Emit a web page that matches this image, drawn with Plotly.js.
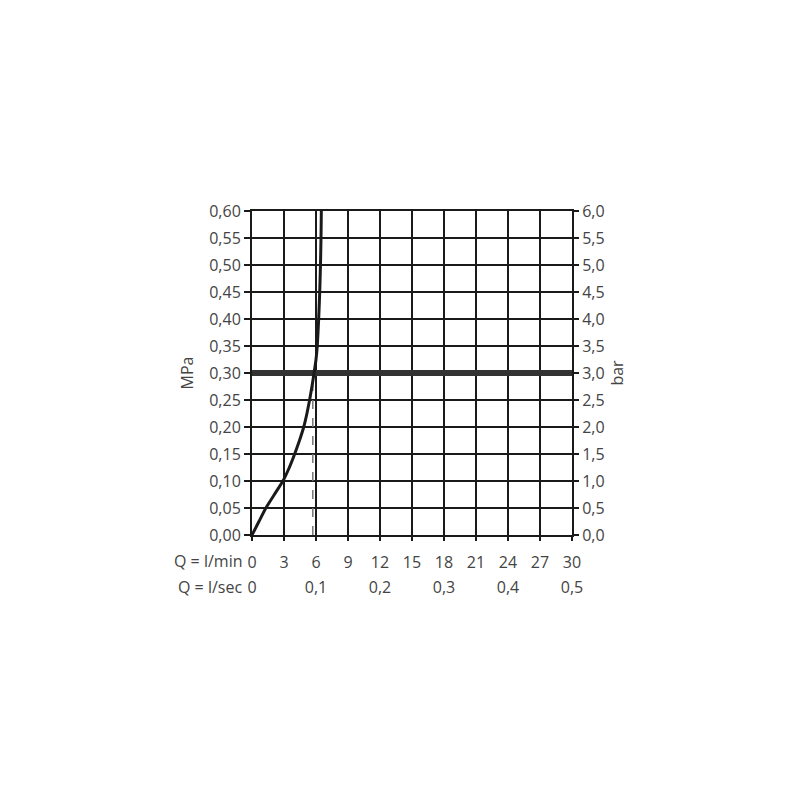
<!DOCTYPE html>
<html>
<head>
<meta charset="utf-8">
<script src="https://cdn.plot.ly/plotly-3.0.1.min.js"></script>
<style>html,body{margin:0;padding:0;background:#fff;}#chart{width:800px;height:800px;}</style>
</head>
<body>
<div id="chart"></div>
<script>
// Flow curve: Q in l/min, pressure in MPa
const flowLmin = [0, 0.65, 1.3, 2.1, 2.9, 3.5, 4.0, 4.45, 4.85, 5.15, 5.4, 5.62, 5.82, 6.0, 6.12, 6.25, 6.35, 6.42, 6.47, 6.5];
const pressureMPa = [0, 0.025, 0.05, 0.075, 0.10, 0.125, 0.15, 0.175, 0.20, 0.225, 0.25, 0.275, 0.30, 0.325, 0.35, 0.40, 0.45, 0.50, 0.55, 0.60];
// Reference pressure line (MPa) and marked flow (l/min)
const refPressure = 0.30;
const refFlow = 5.7;
// Tick labels
const lminTicks = [0, 3, 6, 9, 12, 15, 18, 21, 24, 27, 30];
const lsecTicks = [0, 0.1, 0.2, 0.3, 0.4, 0.5];
const lsecLabels = ["0", "0,1", "0,2", "0,3", "0,4", "0,5"];

const txt = '#444';
const fontFam = 'Open Sans, Lato, sans-serif';

const traces = [
  {x: [refFlow, refFlow], y: [0, refPressure], mode: 'lines', xaxis: 'x', yaxis: 'y',
   line: {color: '#777', width: 1.5, dash: 'dash'}, hoverinfo: 'skip'},
  {x: [0, 30], y: [refPressure, refPressure], mode: 'lines', xaxis: 'x', yaxis: 'y',
   line: {color: '#333', width: 6}, hoverinfo: 'skip'},
  {x: flowLmin, y: pressureMPa, mode: 'lines', xaxis: 'x', yaxis: 'y',
   line: {color: '#1a1a1a', width: 3, shape: 'spline', smoothing: 0.4}},
  {x: [0], y: [0], mode: 'markers', xaxis: 'x2', yaxis: 'y2', marker: {opacity: 0}, hoverinfo: 'skip'}
];

const layout = {
  width: 800, height: 800,
  margin: {l: 252, r: 228, t: 211, b: 265},
  paper_bgcolor: '#fff', plot_bgcolor: '#fff',
  showlegend: false,
  separators: ',.',
  font: {family: fontFam, size: 16, color: txt},
  xaxis: {
    range: [0, 30], tickvals: lminTicks, ticktext: lminTicks.map(String),
    showgrid: true, gridcolor: '#1a1a1a', gridwidth: 2,
    showline: true, linecolor: '#1a1a1a', linewidth: 2, mirror: true,
    ticks: 'outside', ticklen: 4, tickcolor: '#1a1a1a', tickwidth: 1.5,
    ticklabelstandoff: 8,
    zeroline: false, fixedrange: true, tickfont: {size: 16, color: txt}
  },
  xaxis2: {
    overlaying: 'x', side: 'bottom', anchor: 'y',
    range: [0, 0.5], tickvals: lsecTicks, ticktext: lsecLabels,
    showgrid: false, showline: false, ticks: '', zeroline: false,
    ticklabelstandoff: 41, tickfont: {size: 16, color: txt}
  },
  yaxis: {
    range: [0, 0.6], dtick: 0.05, tick0: 0, tickformat: '.2f',
    showgrid: true, gridcolor: '#1a1a1a', gridwidth: 2,
    showline: true, linecolor: '#1a1a1a', linewidth: 2, mirror: true,
    ticks: 'outside', ticklen: 6, tickcolor: '#1a1a1a', tickwidth: 1.5,
    zeroline: false, tickfont: {size: 16, color: txt},
    title: {text: 'MPa', font: {size: 16, color: txt}, standoff: 12}
  },
  yaxis2: {
    overlaying: 'y', side: 'right', anchor: 'x',
    range: [0, 6], dtick: 0.5, tick0: 0, tickformat: '.1f',
    showgrid: false, showline: false, zeroline: false,
    ticks: 'outside', ticklen: 6, tickcolor: '#1a1a1a', tickwidth: 1.5,
    tickfont: {size: 16, color: txt},
    title: {text: 'bar', font: {size: 16, color: txt}, standoff: 8}
  },
  annotations: [
    {text: 'Q = l/min', xref: 'paper', yref: 'paper', x: -0.025, y: 0, yshift: -26,
     xanchor: 'right', yanchor: 'middle', showarrow: false, font: {size: 16, color: txt}},
    {text: 'Q = l/sec', xref: 'paper', yref: 'paper', x: -0.025, y: 0, yshift: -52,
     xanchor: 'right', yanchor: 'middle', showarrow: false, font: {size: 16, color: txt}}
  ]
};

Plotly.newPlot('chart', traces, layout, {displayModeBar: false, staticPlot: true});
</script>
</body>
</html>
